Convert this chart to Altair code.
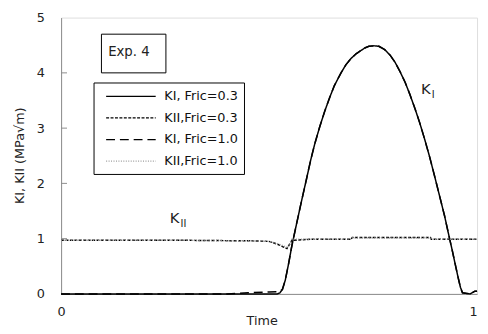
import altair as alt
import pandas as pd

FONT = "DejaVu Sans"

series_names = ["KI, Fric=0.3", "KII,Fric=0.3", "KI, Fric=1.0", "KII,Fric=1.0"]

# KI, Fric=0.3 (solid)
ki03_t = [0, 0.40, 0.48, 0.52, 0.526, 0.532, 0.539, 0.547, 0.555, 0.567, 0.578, 0.59, 0.60,
          0.61, 0.622, 0.634, 0.646, 0.657, 0.673, 0.685, 0.697, 0.71, 0.72, 0.73, 0.74,
          0.752, 0.764, 0.778, 0.791, 0.803, 0.815, 0.827, 0.838, 0.85, 0.862, 0.874, 0.886,
          0.898, 0.91, 0.922, 0.931, 0.94, 0.948, 0.955, 0.96, 0.965, 0.983, 0.995, 1.0]
ki03_v = [0, 0, 0, 0, 0.02, 0.08, 0.25, 0.55, 0.88, 1.3, 1.68, 2.08, 2.42,
          2.72, 3.03, 3.31, 3.56, 3.77, 4.0, 4.15, 4.26, 4.35, 4.40, 4.45, 4.48,
          4.49, 4.48, 4.42, 4.32, 4.19, 4.02, 3.83, 3.62, 3.37, 3.1, 2.8, 2.48,
          2.13, 1.77, 1.41, 1.1, 0.8, 0.52, 0.28, 0.12, 0.02, 0.0, 0.05, 0.05]

# KII, Fric=0.3 (short dashes)
kii03_t = [0, 0.30, 0.46, 0.50, 0.52, 0.543, 0.555, 0.60, 0.697, 0.70, 0.888, 0.89, 1.0]
kii03_v = [0.97, 0.97, 0.96, 0.95, 0.90, 0.82, 0.97, 0.99, 0.99, 1.02, 1.02, 0.99, 0.99]

# KI, Fric=1.0 (long dashes)
ki10_t = [0, 0.40, 0.45, 0.50, 0.524, 0.532, 0.539, 0.547, 0.555, 0.567, 0.578, 0.59, 0.60,
          0.61, 0.622, 0.634, 0.646, 0.657, 0.673, 0.685, 0.697, 0.71, 0.72, 0.73, 0.74,
          0.752, 0.764, 0.778, 0.791, 0.803, 0.815, 0.827, 0.838, 0.85, 0.862, 0.874, 0.886,
          0.898, 0.91, 0.922, 0.931, 0.94, 0.948, 0.955, 0.96, 0.965, 0.983, 0.995, 1.0]
ki10_v = [0, 0, 0.02, 0.035, 0.04, 0.08, 0.25, 0.55, 0.88, 1.3, 1.68, 2.08, 2.42,
          2.72, 3.03, 3.31, 3.56, 3.77, 4.0, 4.15, 4.26, 4.35, 4.40, 4.45, 4.48,
          4.49, 4.48, 4.42, 4.32, 4.19, 4.02, 3.83, 3.62, 3.37, 3.1, 2.8, 2.48,
          2.13, 1.77, 1.41, 1.1, 0.8, 0.52, 0.28, 0.12, 0.02, 0.0, 0.05, 0.05]

# KII, Fric=1.0 (dotted)
kii10_t = [0, 0.30, 0.46, 0.50, 0.52, 0.545, 0.555, 0.60, 0.697, 0.70, 0.888, 0.89, 1.0]
kii10_v = [0.97, 0.97, 0.96, 0.95, 0.91, 0.84, 0.99, 0.99, 0.99, 1.01, 1.01, 0.99, 0.99]

y_ticks = [1, 2, 3, 4]

# annotations (data coordinates)
exp_box_x = [0.097, 0.252]
exp_box_y = [4.70, 4.00]
exp_label = "Exp. 4"
exp_label_pos = [0.163, 4.37]
k_labels = ["K", "K"]
k_subs = ["I", "II"]
k_pos_t = [0.865, 0.261]
k_pos_v = [3.70, 1.37]

rows = []
for name, ts, vs in zip(series_names, [ki03_t, kii03_t, ki10_t, kii10_t],
                        [ki03_v, kii03_v, ki10_v, kii10_v]):
    for i, (t, v) in enumerate(zip(ts, vs)):
        rows.append({"series": name, "t": t, "v": v, "i": i})
df = pd.DataFrame(rows)

xscale = alt.Scale(domain=[0, 1], nice=False)
yscale = alt.Scale(domain=[0, 5], nice=False)

legend = alt.Legend(orient="none", legendX=33, legendY=66, title=None,
                    symbolType="M-3.6,0H3.6", symbolSize=196,
                    symbolStrokeWidth=1.3, labelFont=FONT,
                    labelFontSize=13, labelColor="#111",
                    strokeColor="black", fillColor="white", padding=6,
                    symbolOffset=24, labelOffset=26, rowPadding=7)

lines = alt.Chart(df).mark_line(strokeWidth=1.5).encode(
    x=alt.X("t:Q", scale=xscale,
            axis=alt.Axis(values=[0, 1], format="d", ticks=False, tickSize=0, labelPadding=12,
                          labelFlush=False,
                          labelAlign={"expr": "datum.value == 1 ? 'right' : 'center'"},
                          grid=False, domainColor="#8c8c8c", labelColor="#222",
                          labelFont=FONT, labelFontSize=13, title="Time",
                          titleFont=FONT, titleFontSize=13, titleFontWeight="normal",
                          titleColor="#222", titleX=204, titleY=27, titleBaseline="middle")),
    y=alt.Y("v:Q", scale=yscale,
            axis=alt.Axis(values=[0, 1, 2, 3, 4, 5], format="d", ticks=False, tickSize=0,
                          labelPadding=17, labelFlush=False,
                          grid=False, domainColor="#8c8c8c", labelColor="#222",
                          labelFont=FONT, labelFontSize=13, title="KI, KII (MPa√m)",
                          titleFont=FONT, titleFontSize=13, titleFontWeight="normal",
                          titleColor="#222", titleX=-42, titleY=140, titleAngle=-90,
                          titleAlign="center", titleBaseline="middle")),
    color=alt.Color("series:N", scale=alt.Scale(domain=series_names,
                                                  range=["black", "black", "black", "#9a9a9a"]),
                    legend=legend),
    strokeDash=alt.StrokeDash("series:N", scale=alt.Scale(domain=series_names,
                                                          range=[[1, 0], [3, 1.5], [9, 5], [1, 1.5]]),
                              legend=legend),
    detail="series:N",
    order="i:Q",
)

ticks_df = pd.DataFrame({"y": y_ticks})
ticks = alt.Chart(ticks_df).mark_rule(color="#8c8c8c").encode(
    y=alt.Y("y:Q", scale=yscale), x=alt.value(0), x2=alt.value(6)
)

box_df = pd.DataFrame({"x1": [exp_box_x[0]], "x2": [exp_box_x[1]],
                       "y1": [exp_box_y[0]], "y2": [exp_box_y[1]]})
box = alt.Chart(box_df).mark_rect(fill="white", stroke="black", strokeWidth=1).encode(
    x=alt.X("x1:Q", scale=xscale), x2="x2:Q",
    y=alt.Y("y1:Q", scale=yscale), y2="y2:Q"
)

exp_df = pd.DataFrame({"t": [exp_label_pos[0]], "v": [exp_label_pos[1]], "txt": [exp_label]})
exp_text = alt.Chart(exp_df).mark_text(font=FONT, fontSize=13.5, color="#222").encode(
    x=alt.X("t:Q", scale=xscale), y=alt.Y("v:Q", scale=yscale), text="txt:N"
)

k_df = pd.DataFrame({"t": k_pos_t, "v": k_pos_v, "k": k_labels, "sub": k_subs})
k_text = alt.Chart(k_df).mark_text(font=FONT, fontSize=15, color="#222", align="left").encode(
    x=alt.X("t:Q", scale=xscale), y=alt.Y("v:Q", scale=yscale), text="k:N"
)
k_sub = alt.Chart(k_df).mark_text(font=FONT, fontSize=10, color="#222", align="left",
                                  dx=11, dy=6).encode(
    x=alt.X("t:Q", scale=xscale), y=alt.Y("v:Q", scale=yscale), text="sub:N"
)

chart = alt.layer(ticks, lines, box, exp_text, k_text, k_sub).properties(
    width=423, height=281,
    padding={"left": 54, "top": 7, "right": 3, "bottom": 38},
    autosize="none",
).configure_view(stroke="black", strokeWidth=1).configure(background="white")

chart.save("out.html", embed_options={"renderer": "svg", "actions": False})
